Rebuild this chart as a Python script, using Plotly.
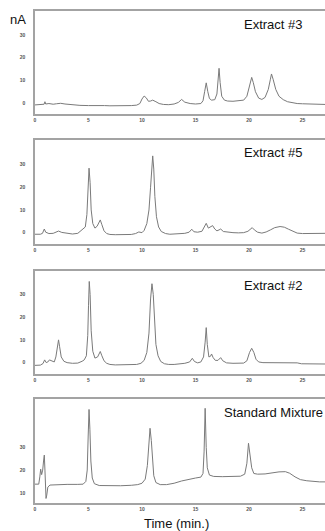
import plotly.graph_objects as go

# ---- data (time in min, signal in nA) ----
extract3 = [(0,-0.8),(0.6,-0.8),(0.85,-0.5),(0.93,0.6),(1.0,-0.4),(1.3,-0.2),(1.7,-0.5),(2.0,-0.3),(2.4,-0.1),(2.8,-0.4),
            (3.2,-0.6),(3.6,-0.9),(4.2,-1.0),(5.0,-1.1),(5.5,-1.0),(6.0,-1.2),(6.5,-1.1),(7.0,-1.2),(7.5,-1.2),(8.0,-1.3),
            (8.5,-1.2),(9.0,-1.1),(9.5,-0.9),(9.8,-0.2),(10.0,1.8),(10.2,3.1),(10.4,2.3),(10.6,0.8),(10.8,0.9),(11.0,1.3),
            (11.3,0.6),(11.6,-0.2),(12.0,-0.6),(12.5,-0.7),(13.0,-0.4),(13.4,0.3),(13.7,1.6),(14.0,0.4),(14.5,-0.2),(15.0,-0.4),
            (15.5,-0.2),(15.7,1.0),(15.85,5.0),(16.0,8.9),(16.15,5.0),(16.3,2.0),(16.5,1.3),(16.8,1.5),(17.0,4.0),(17.1,10.0),
            (17.2,15.3),(17.3,9.0),(17.45,3.0),(17.7,1.3),(18.0,0.9),(18.5,0.8),(19.0,0.9),(19.5,1.3),(19.8,3.0),(20.0,7.0),
            (20.15,10.5),(20.25,11.3),(20.4,9.0),(20.6,5.0),(20.9,2.2),(21.2,1.6),(21.5,2.5),(21.8,6.0),(22.0,10.5),(22.1,12.8),
            (22.25,10.5),(22.5,6.0),(22.8,3.0),(23.2,1.5),(23.6,0.6),(24.0,0.2),(24.5,-0.2),(25.0,-0.3),(25.5,-0.4),(26.0,-0.5),
            (26.5,-0.6),(27.1,-0.6)]

extract5 = [(0,-0.7),(0.5,-0.7),(0.7,-0.3),(0.87,1.6),(1.0,0.2),(1.3,-0.4),(1.7,-0.3),(2.0,0.2),(2.2,0.7),(2.5,0.1),
            (3.0,-0.3),(3.5,-0.6),(4.0,-0.3),(4.3,0.8),(4.5,1.4),(4.7,2.5),(4.85,8.0),(4.95,18.0),(5.05,28.4),(5.15,22.0),
            (5.25,10.0),(5.4,4.0),(5.6,2.0),(5.8,2.8),(6.0,5.2),(6.1,5.6),(6.25,3.5),(6.45,0.8),(6.7,-0.4),(7.0,-0.8),
            (7.5,-0.9),(8.0,-0.9),(8.5,-0.8),(9.0,-0.8),(9.4,-0.4),(9.7,0.3),(10.0,0.0),(10.2,1.0),(10.45,4.0),(10.65,10.0),
            (10.8,20.0),(10.92,27.0),(11.0,33.8),(11.1,28.0),(11.2,16.0),(11.35,7.0),(11.55,2.5),(11.8,0.5),(12.2,-0.4),(12.6,-0.7),
            (13.0,-0.6),(13.5,-0.5),(14.0,-0.3),(14.4,0.2),(14.65,1.5),(14.85,0.4),(15.2,0.2),(15.6,0.6),(15.85,3.0),(16.0,4.1),
            (16.2,2.0),(16.4,2.6),(16.6,3.1),(16.8,1.6),(17.0,0.8),(17.2,1.2),(17.35,1.6),(17.6,0.5),(18.0,0.2),(18.5,0.0),
            (19.0,-0.1),(19.5,0.0),(19.9,0.6),(20.15,1.8),(20.3,2.2),(20.5,1.2),(20.8,0.2),(21.2,-0.2),(21.6,0.3),(22.0,1.2),
            (22.4,2.2),(22.9,2.7),(23.3,2.4),(23.7,1.5),(24.1,0.5),(24.5,-0.2),(25.0,-0.4),(25.5,-0.4),(26.0,-0.3),(26.5,-0.3),
            (27.1,-0.3)]

extract2 = [(0,-1.2),(0.5,-1.1),(0.75,-0.4),(0.9,1.2),(1.05,0.0),(1.2,0.3),(1.35,1.2),(1.55,0.8),(1.8,0.3),(1.95,2.5),
            (2.1,7.5),(2.2,10.0),(2.3,7.0),(2.45,2.5),(2.7,0.6),(3.0,0.0),(3.5,-0.3),(4.0,-0.2),(4.4,0.6),(4.6,1.2),
            (4.8,3.0),(4.93,12.0),(5.0,25.0),(5.07,35.7),(5.15,30.0),(5.25,14.0),(5.4,5.0),(5.6,2.0),(5.85,2.5),(6.0,4.5),
            (6.1,4.9),(6.25,3.0),(6.45,0.8),(6.7,-0.3),(7.0,-0.8),(7.5,-1.0),(8.0,-1.0),(8.5,-1.0),(9.0,-0.9),(9.5,-0.8),
            (9.9,-0.3),(10.2,1.0),(10.45,4.5),(10.65,13.0),(10.8,28.0),(10.93,34.7),(11.05,30.0),(11.15,18.0),(11.3,8.0),(11.5,3.0),
            (11.75,0.5),(12.1,-0.5),(12.5,-0.8),(13.0,-0.8),(13.5,-0.6),(14.0,-0.3),(14.45,0.3),(14.7,1.9),(14.9,0.5),(15.2,-0.1),
            (15.5,0.3),(15.75,2.5),(15.9,9.0),(16.0,15.4),(16.1,8.0),(16.25,2.5),(16.4,2.8),(16.5,3.8),(16.65,2.2),(16.85,1.0),
            (17.1,1.0),(17.35,2.2),(17.55,0.8),(17.9,-0.1),(18.5,-0.3),(19.0,-0.4),(19.5,-0.2),(19.8,0.8),(20.05,4.5),(20.25,6.3),
            (20.45,4.5),(20.65,1.5),(20.9,0.3),(21.3,0.0),(22.0,0.0),(23.0,0.0),(24.0,0.0),(24.5,-0.1),(24.9,-0.5),(25.5,-0.6),
            (26.0,-0.6),(26.5,-0.6),(27.1,-0.6)]

standard = [(0,13.8),(0.35,13.8),(0.45,17.0),(0.53,20.4),(0.62,18.0),(0.72,20.0),(0.8,24.0),(0.87,26.6),(0.93,20.0),(0.98,12.0),
            (1.03,7.5),(1.1,9.0),(1.2,12.5),(1.4,13.4),(2.0,13.6),(3.0,13.7),(4.0,13.7),(4.5,13.8),(4.75,15.0),(4.88,20.0),
            (4.97,35.0),(5.05,46.7),(5.13,38.0),(5.22,24.0),(5.35,16.5),(5.55,14.0),(6.0,13.2),(7.0,13.0),(8.0,13.1),(9.0,13.3),
            (9.6,13.6),(10.0,14.2),(10.3,16.0),(10.5,22.0),(10.62,32.0),(10.75,38.4),(10.87,33.0),(10.98,24.0),(11.1,17.5),(11.3,14.5),
            (11.7,13.6),(12.3,13.6),(13.0,14.2),(13.7,15.2),(14.4,16.0),(15.0,16.5),(15.5,16.9),(15.7,18.5),(15.8,28.0),(15.9,47.2),
            (16.0,30.0),(16.1,21.0),(16.3,17.8),(16.7,17.2),(17.5,17.1),(18.5,17.2),(19.2,17.3),(19.6,18.2),(19.8,23.0),(19.95,31.8),
            (20.1,27.0),(20.25,21.0),(20.45,18.5),(20.8,18.2),(21.5,18.3),(22.2,18.8),(22.8,19.2),(23.4,19.3),(23.8,18.6),(24.3,17.0),
            (24.8,15.8),(25.4,15.3),(26.0,14.9),(26.6,14.8),(27.1,14.8)]

panel_titles = ["Extract #3", "Extract #5", "Extract #2", "Standard Mixture"]
x_tick_vals = [0, 5, 10, 15, 20, 25]
x_tick_text = ["0", "5", "10", "15", "20", "25"]
y_tick_vals_extract = [0, 10, 20, 30]
y_tick_text_extract = ["0", "10", "20", "30"]
y_tick_vals_std = [10, 20, 30]
y_tick_text_std = ["10", "20", "30"]

W, H = 325, 531
series = [extract3, extract5, extract2, standard]
# pixel frames (top, bottom) of each panel
frames = [(11, 114), (140, 244), (271, 374), (399, 503)]
y_ranges = [(-4.8, 40.5), (-5.0, 40.8), (-5.0, 40.3), (5.5, 51.3)]
title_pos = [(242, 24), (242, 152), (242, 285), (222, 412)]
left_px = 35

LINE = "#7a7a7a"
FRAME = "#a3a3a3"
TICKFONT = dict(family="Liberation Sans, Arial", size=5, color="#555555", weight="bold")

fig = go.Figure()
layout = dict(width=W, height=H, autosize=False, margin=dict(l=0, r=0, t=0, b=0),
              paper_bgcolor="white", plot_bgcolor="white", showlegend=False)

for i, data in enumerate(series):
    n = i + 1
    xs = [p[0] for p in data]
    ys = [p[1] for p in data]
    fig.add_trace(go.Scatter(x=xs, y=ys, mode="lines", line=dict(color=LINE, width=1.0),
                             xaxis=f"x{n}", yaxis=f"y{n}", hoverinfo="skip"))
    top, bot = frames[i]
    ydom = [1 - bot / H, 1 - top / H]
    xkey = "xaxis" if n == 1 else f"xaxis{n}"
    ykey = "yaxis" if n == 1 else f"yaxis{n}"
    layout[xkey] = dict(domain=[left_px / W, 1], range=[0, 27.1], anchor=f"y{n}",
                        tickvals=x_tick_vals, ticktext=x_tick_text, tickfont=TICKFONT,
                        showgrid=False, zeroline=False, showline=True, mirror=True,
                        linecolor=FRAME, linewidth=1.6, ticks="", ticklabelstandoff=0)
    if i < 3:
        tv, tt = y_tick_vals_extract, y_tick_text_extract
    else:
        tv, tt = y_tick_vals_std, y_tick_text_std
    layout[ykey] = dict(domain=ydom, range=list(y_ranges[i]), anchor=f"x{n}",
                        tickvals=tv, ticktext=tt, tickfont=TICKFONT,
                        showgrid=False, zeroline=False, showline=True, mirror=False,
                        linecolor=FRAME, linewidth=1.6, ticks="", ticklabelstandoff=7)

fig.update_layout(**layout)

ann_font = dict(family="Liberation Sans, Arial", size=13, color="#111111")
for (px, py), txt in zip(title_pos, panel_titles):
    fig.add_annotation(x=px / W, y=1 - py / H, xref="paper", yref="paper", text=txt,
                       showarrow=False, xanchor="left", yanchor="middle", font=ann_font)

fig.add_annotation(x=18 / W, y=1 - 19 / H, xref="paper", yref="paper", text="nA",
                   showarrow=False, xanchor="center", yanchor="middle", font=ann_font)
fig.add_annotation(x=176 / W, y=1 - 523 / H, xref="paper", yref="paper", text="Time (min.)",
                   showarrow=False, xanchor="center", yanchor="middle", font=ann_font)

fig.write_html("out.html", config={"displayModeBar": False, "staticPlot": True},
               post_script="document.body.style.margin='0';document.body.style.overflow='hidden';")
